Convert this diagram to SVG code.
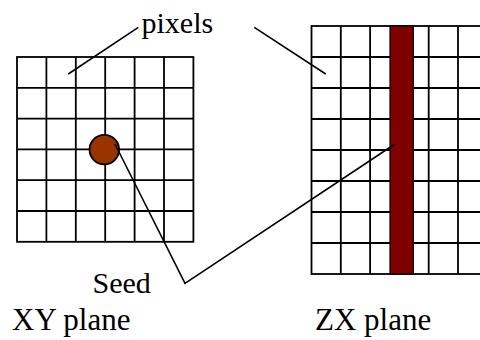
<svg xmlns="http://www.w3.org/2000/svg" width="480" height="340" viewBox="0 0 480 340">
<style>
.grid{fill:#ffffff;stroke:#000000;stroke-width:1.8}
.gl{stroke:#000000;stroke-width:1.8;fill:none}
.conn{stroke:#000000;stroke-width:1.6;fill:none}
text{font-family:'Liberation Serif','Times New Roman',serif;font-size:30px;fill:#000000}
.big{font-size:31px}
</style>
<rect width="480" height="340" fill="#ffffff"/>
<g id="xy-plane">
<rect class="grid" x="17" y="57" width="176.4" height="184.8"/>
<path class="gl" d="M46.4,57V241.8M75.8,57V241.8M105.2,57V241.8M134.6,57V241.8M164,57V241.8M17,87.8H193.4M17,118.6H193.4M17,149.4H193.4M17,180.2H193.4M17,211H193.4"/>
</g>
<g id="zx-plane">
<rect class="grid" x="311.5" y="26" width="180" height="248"/>
<path class="gl" d="M340.8,26V274M370.1,26V274M428.7,26V274M458,26V274M311.5,57H491.5M311.5,88H491.5M311.5,119H491.5M311.5,150H491.5M311.5,181H491.5M311.5,212H491.5M311.5,243H491.5"/>
<rect x="390" y="26" width="23.3" height="248" fill="#800000" stroke="#000000" stroke-width="1.2"/>
</g>
<g id="seed">
<circle cx="104.3" cy="149.6" r="14.8" fill="#993300" stroke="#000000" stroke-width="1.8"/>
</g>
<g id="connectors">
<line class="conn" x1="68.3" y1="74" x2="138.3" y2="27.3"/>
<line class="conn" x1="254.3" y1="27.3" x2="325.7" y2="74"/>
<polyline class="conn" points="115,144 185,283.3 395,144"/>
</g>
<g id="labels">
<text x="141.5" y="33">pixels</text>
<text x="92.5" y="293">Seed</text>
<text class="big" x="12" y="330">XY plane</text>
<text class="big" x="315" y="330">ZX plane</text>
</g>
</svg>
